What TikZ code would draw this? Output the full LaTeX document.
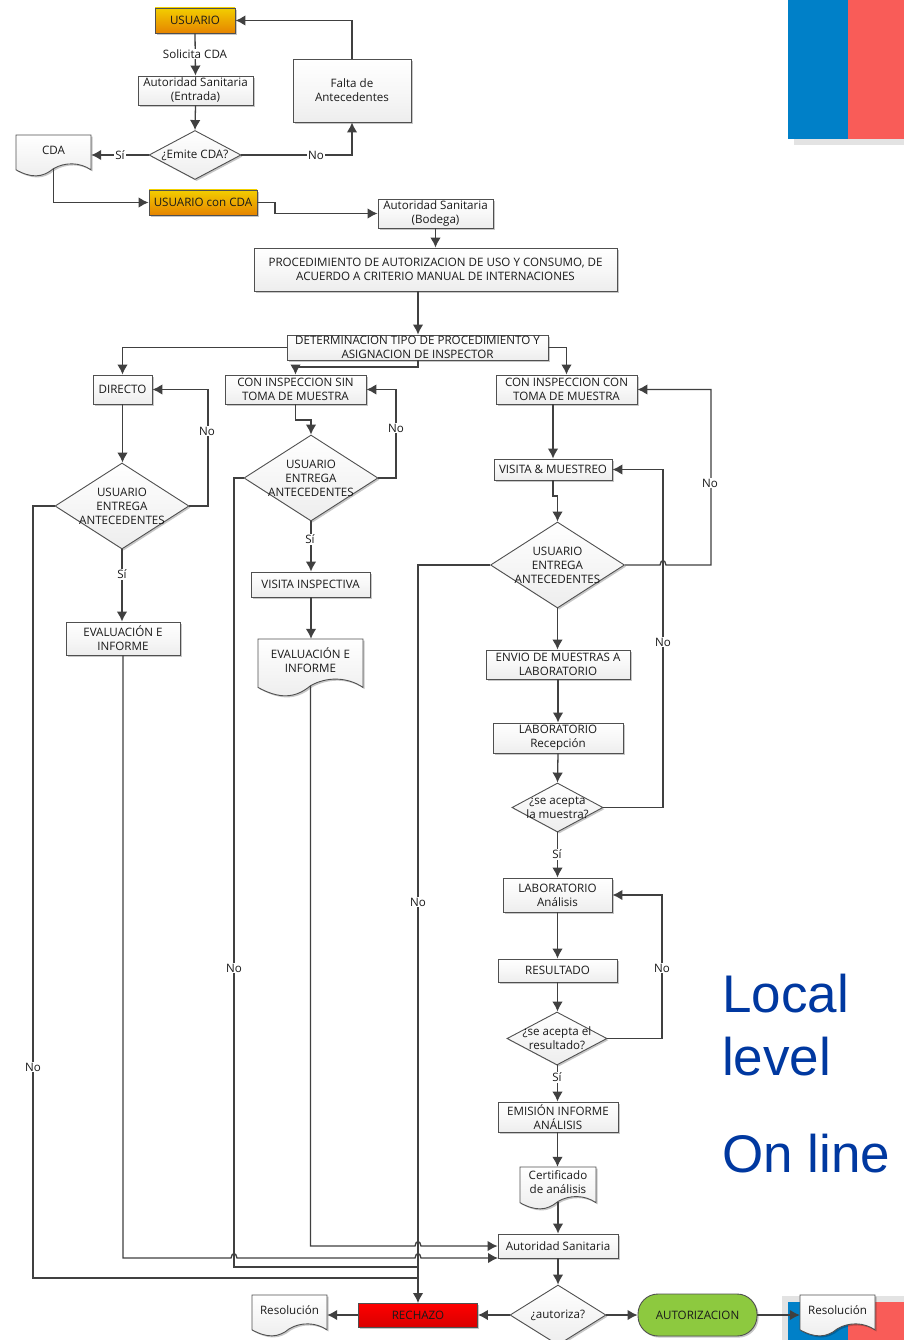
\documentclass[tikz,border=0pt]{standalone}
\usepackage{fontspec}
\setmainfont{Open Sans}
\newfontfamily\bigfont{Liberation Sans}
\usetikzlibrary{arrows.meta,shapes.geometric,shadows,calc}
\definecolor{ln}{HTML}{404040}
\definecolor{bd}{HTML}{505050}
\definecolor{flagblue}{HTML}{0080C8}
\definecolor{flagred}{HTML}{F95C58}
\definecolor{flagshadow}{HTML}{E3E3E3}
\definecolor{bigblue}{HTML}{0038A0}
\definecolor{okgreen}{HTML}{8DC93F}
\definecolor{tx}{HTML}{1A1A1A}
\tikzset{
  x=1pt,y=-1pt,
  txt/.style={font=\fontsize{11.6}{14}\selectfont,text=tx,align=center,inner sep=0pt},
  shd/.style={drop shadow={shadow xshift=1.6pt,shadow yshift=-1.6pt,opacity=.22,fill=black}},
  plain/.style={txt,rectangle,draw=bd,line width=.9pt,top color=white,bottom color=black!7,middle color=white!97!black,shd},
  orange/.style={txt,rectangle,draw=bd,line width=.9pt,top color=orange!30!yellow!95!black,bottom color=orange!85!yellow!90!black,shd},
  redbox/.style={txt,rectangle,draw=bd,line width=.9pt,top color=red,bottom color=red!85!black,shd},
  greenbox/.style={txt,rectangle,rounded corners=20pt,draw=bd,line width=.9pt,fill=okgreen,shd},
  dia/.style={diamond,aspect=1.55,inner sep=0pt,draw=bd,line width=.9pt,top color=white,bottom color=black!7,shd},
  ar/.style={draw=ln,line width=1.3pt,-{Latex[length=10pt,width=10.5pt]}},
  ln/.style={draw=ln,line width=1.3pt},
  lab/.style={txt,fill=white,inner xsep=1pt,inner ysep=1pt},
  big/.style={font=\bigfont\fontsize{53}{60}\selectfont,text=bigblue,anchor=base west,inner sep=0pt},
}
\newcommand{\pbox}[7]{%
  \pgfmathsetmacro\cx{(#3+#5)/2}\pgfmathsetmacro\cy{(#4+#6)/2}%
  \pgfmathsetmacro\ww{#5-#3}\pgfmathsetmacro\hh{#6-#4}%
  \node[#1,minimum width=\ww pt,minimum height=\hh pt] (#2) at (\cx,\cy) {#7};}
\newcommand{\pdia}[6]{% name cx cy halfw halfh text
  \pgfmathsetmacro\ww{2*#4}\pgfmathsetmacro\hh{2*#5}%
  \node[dia,minimum width=\ww pt,minimum height=\hh pt] (#1) at (#2,#3) {};
  \node[txt] (#1-t) at (#1.center) {#6};}
\newcommand{\pdoc}[6]{% name x1 y1 x2 y2 text
  \pgfmathsetmacro\W{#4-#2}\pgfmathsetmacro\H{#5-#3}%
  \pgfmathsetmacro\yb{#3+.85*\H}%
  \pgfmathsetmacro\ax{#2+.2*\W}\pgfmathsetmacro\ay{#5+.05*\H}%
  \pgfmathsetmacro\bx{#2+.35*\W}%
  \pgfmathsetmacro\mx{#2+.5*\W}\pgfmathsetmacro\my{\yb-.03*\H}%
  \pgfmathsetmacro\cxa{#2+.65*\W}\pgfmathsetmacro\cya{\yb-.19*\H}%
  \pgfmathsetmacro\dxa{#2+.85*\W}%
  \draw[draw=bd,line width=.9pt,top color=white,bottom color=black!7,shd]
    (#2,#3) -- (#4,#3) -- (#4,\yb)
    .. controls (\dxa,\cya) and (\cxa,\cya) .. (\mx,\my)
    .. controls (\bx,\ay) and (\ax,\ay) .. (#2,\yb) -- cycle;
  \pgfmathsetmacro\hh{\my-#3}\pgfmathsetmacro\cy{(\my+#3)/2}%
  \node[inner sep=0pt,minimum width=\W pt,minimum height=\hh pt] (#1) at (\mx,\cy) {};
  \pgfmathsetmacro\ty{#3+.37*\H}%
  \node[txt] (#1-t) at (\mx,\ty) {#6};}
\begin{document}
\begin{tikzpicture}
\clip (0,0) rectangle (904,1340);
\fill[white] (0,0) rectangle (904,1340);
% flags
\fill[flagshadow] (794,139) rectangle (904,145);
\fill[flagblue] (788,0) rectangle (848,139);
\fill[flagred] (848,0) rectangle (904,139);
\fill[flagshadow] (782,1296) rectangle (904,1340);
\fill[flagblue] (788,1302) rectangle (848,1340);
\fill[flagred] (848,1302) rectangle (904,1340);
% big texts
\node[big] (local) at (722,1012) {Local};
\node[big] (level) at (722,1075) {level};
\node[big] (online) at (722,1172) {On line};
% nodes
\pbox{orange}{usu}{155}{8}{235}{33}{USUARIO}
\pbox{plain}{ase}{138}{76}{253}{105}{Autoridad Sanitaria\\(Entrada)}
\pbox{plain}{falta}{293}{59}{411}{122}{Falta de\\Antecedentes}
\pdia{emite}{195}{155}{46}{24.5}{¿Emite CDA?}
\pdoc{cda}{16}{135}{91}{176}{CDA}
\pbox{orange}{ucda}{149}{190}{257}{215}{USUARIO con CDA}
\pbox{plain}{asb}{378}{199}{493}{228}{Autoridad Sanitaria\\(Bodega)}
\pbox{plain}{proc}{254}{248}{617}{291}{PROCEDIMIENTO DE AUTORIZACION DE USO Y CONSUMO, DE\\ACUERDO A CRITERIO MANUAL DE INTERNACIONES}
\pbox{plain}{det}{287}{335}{548}{360}{DETERMINACION TIPO DE PROCEDIMIENTO Y\\ASIGNACION DE INSPECTOR}
\pbox{plain}{dir}{93}{375}{152}{404}{DIRECTO}
\pbox{plain}{sin}{225}{375}{366}{404}{CON INSPECCION SIN\\TOMA DE MUESTRA}
\pbox{plain}{con}{496}{375}{637}{404}{CON INSPECCION CON\\TOMA DE MUESTRA}
\pdia{d1}{122}{506}{67}{43}{USUARIO\\ENTREGA\\ANTECEDENTES}
\pdia{d2}{311}{478}{67}{43}{USUARIO\\ENTREGA\\ANTECEDENTES}
\pdia{d3}{557.5}{565}{67}{43}{USUARIO\\ENTREGA\\ANTECEDENTES}
\pbox{plain}{vis}{494}{459}{612}{480}{VISITA \& MUESTREO}
\pbox{plain}{vi}{251}{572}{370}{597}{VISITA INSPECTIVA}
\pbox{plain}{ev1}{66}{622}{180}{655}{EVALUACIÓN E\\INFORME}
\pdoc{ev2}{258}{639}{363}{696}{EVALUACIÓN E\\INFORME}
\pbox{plain}{env}{486}{650}{630}{679}{ENVIO DE MUESTRAS A\\LABORATORIO}
\pbox{plain}{lr}{493}{723}{623}{753}{LABORATORIO\\Recepción}
\pdia{dm}{557.5}{807.5}{45.5}{24.5}{¿se acepta\\la muestra?}
\pbox{plain}{la}{503}{878}{612}{912}{LABORATORIO\\Análisis}
\pbox{plain}{res}{498}{959}{617}{982}{RESULTADO}
\pdia{dr}{557}{1038.5}{50}{26.5}{¿se acepta el\\resultado?}
\pbox{plain}{emi}{498}{1102}{618}{1132}{EMISIÓN INFORME\\ANÁLISIS}
\pdoc{cert}{520}{1167}{596}{1209}{Certificado\\de análisis}
\pbox{plain}{as}{498}{1234}{618}{1258}{Autoridad Sanitaria}
\pdia{dau}{558}{1315}{48}{30}{¿autoriza?}
\pbox{redbox}{rech}{358.5}{1303}{477.5}{1327}{RECHAZO}
\pdoc{rl}{252}{1295}{327}{1336}{Resolución}
\pbox{greenbox}{aut}{638}{1294}{757}{1336}{AUTORIZACION}
\pdoc{rr}{800}{1295}{875}{1336}{Resolución}
% helper coordinates
\coordinate (busR) at (418,1303);
% connectors
\draw[ar] (usu.south) -- (ase.north);
\draw[ar] (ase.south) -- (emite.north);
\draw[ar] (emite.west) -- (cda.east |- emite.west);
\draw[ar] (emite.east) -| (falta.south);
\draw[ar] (falta.north) |- (usu.east);
\draw[ar] (cda.south) |- (ucda.west);
\draw[ar] (ucda.east) -- (275,202.5) |- (asb.west);
\draw[ar] (asb.south) -- (asb.south |- proc.north);
\draw[ar] (418,291) coordinate (p1) -- (p1 |- det.north);
\draw[ar] (det.west) -| (dir.north);
\draw[ar] (418,360) coordinate (p2) -- (418,367) -| (sin.north);
\draw[ar] (det.east) -| (con.north);
\draw[ar] (dir.south) -- (dir.south |- d1.north);
\draw[ar] (sin.south) -- (295.5,420) -| (d2.north);
\draw[ar] (d1.east) -- (208,506) |- (dir.east);
\draw[ar] (d2.east) -- (396,478) |- (sin.east);
\draw[ar] (vis.north |- con.south) -- (vis.north);
\draw[ar] (vis.south) -- (553,496) -| (d3.north);
\draw[ar] (d3.east) -- (660,565) .. controls (661,559) and (665,559) .. (666,565) -- (711,565) |- (con.east);
\draw[ar] (dm.east) -- (663,807.5) |- (vis.east);
\draw[ar] (dr.east) -- (662,1038.5) |- (la.east);
\draw[ar] (d1.south) -- (d1.south |- ev1.north);
\draw[ar] (d2.south) -- (vi.north -| d2.south);
\draw[ar] (vi.south -| d2.south) -- (ev2.north -| d2.south);
\draw[ar] (d3.south) -- (d3.south |- env.north);
\draw[ar] (env.south) -- (lr.north);
\draw[ar] (lr.south) -- (dm.north);
\draw[ar] (dm.south) -- (dm.south |- la.north);
\draw[ar] (la.south -| dm.south) -- (res.north -| dm.south);
\draw[ar] (res.south -| dm.south) -- (dr.north -| dm.south);
\draw[ar] (dr.south -| dm.south) -- (emi.north -| dm.south);
\draw[ar] (emi.south -| dm.south) -- (cert.north -| dm.south);
\draw[ar] (cert.south -| as.north) -- (as.north);
\draw[ar] (as.south) -- (dau.north);
\draw[ar] (dau.west) -- (rech.east);
\draw[ar] (rech.west) -- (rl.east |- rech.west);
\draw[ar] (dau.east) -- (aut.west);
\draw[ar] (aut.east) -- (rr.west |- aut.east);
% long returns
\draw[ar] (d3.west) -- (418,565) -- (busR);
\draw[ln] (d1.west) -- (33,506) -- (33,1278) -- (418,1278);
\draw[ln] (d2.west) -- (234,478) -- (234,1267) -- (418,1267);
\draw[ar] (ev1.south) -- (123,1258)
  -- (231,1258) .. controls (232,1252) and (236,1252) .. (237,1258)
  -- (415,1258) .. controls (416,1252) and (420,1252) .. (421,1258)
  -- (498,1258);
\draw[ar] (ev2.south) -- (310.5,1246)
  -- (415,1246) .. controls (416,1240) and (420,1240) .. (421,1246)
  -- (as.west |- 0,1246);
% labels
\node[lab] (l1) at (195,54) {Solicita CDA};
\node[lab] (l2) at (120,155) {Sí};
\node[lab] (l3) at (316,155) {No};
\node[lab] (l4) at (207,431) {No};
\node[lab] (l5) at (396,428) {No};
\node[lab] (l6) at (710,483) {No};
\node[lab] (l7) at (663,642) {No};
\node[lab] (l8) at (662,968) {No};
\node[lab] (l9) at (122,574) {Sí};
\node[lab] (l10) at (310,539) {Sí};
\node[lab] (l11) at (557,854) {Sí};
\node[lab] (l12) at (557,1077) {Sí};
\node[lab] (l13) at (33,1067) {No};
\node[lab] (l14) at (234,968) {No};
\node[lab] (l15) at (418,902) {No};
\end{tikzpicture}
\end{document}
